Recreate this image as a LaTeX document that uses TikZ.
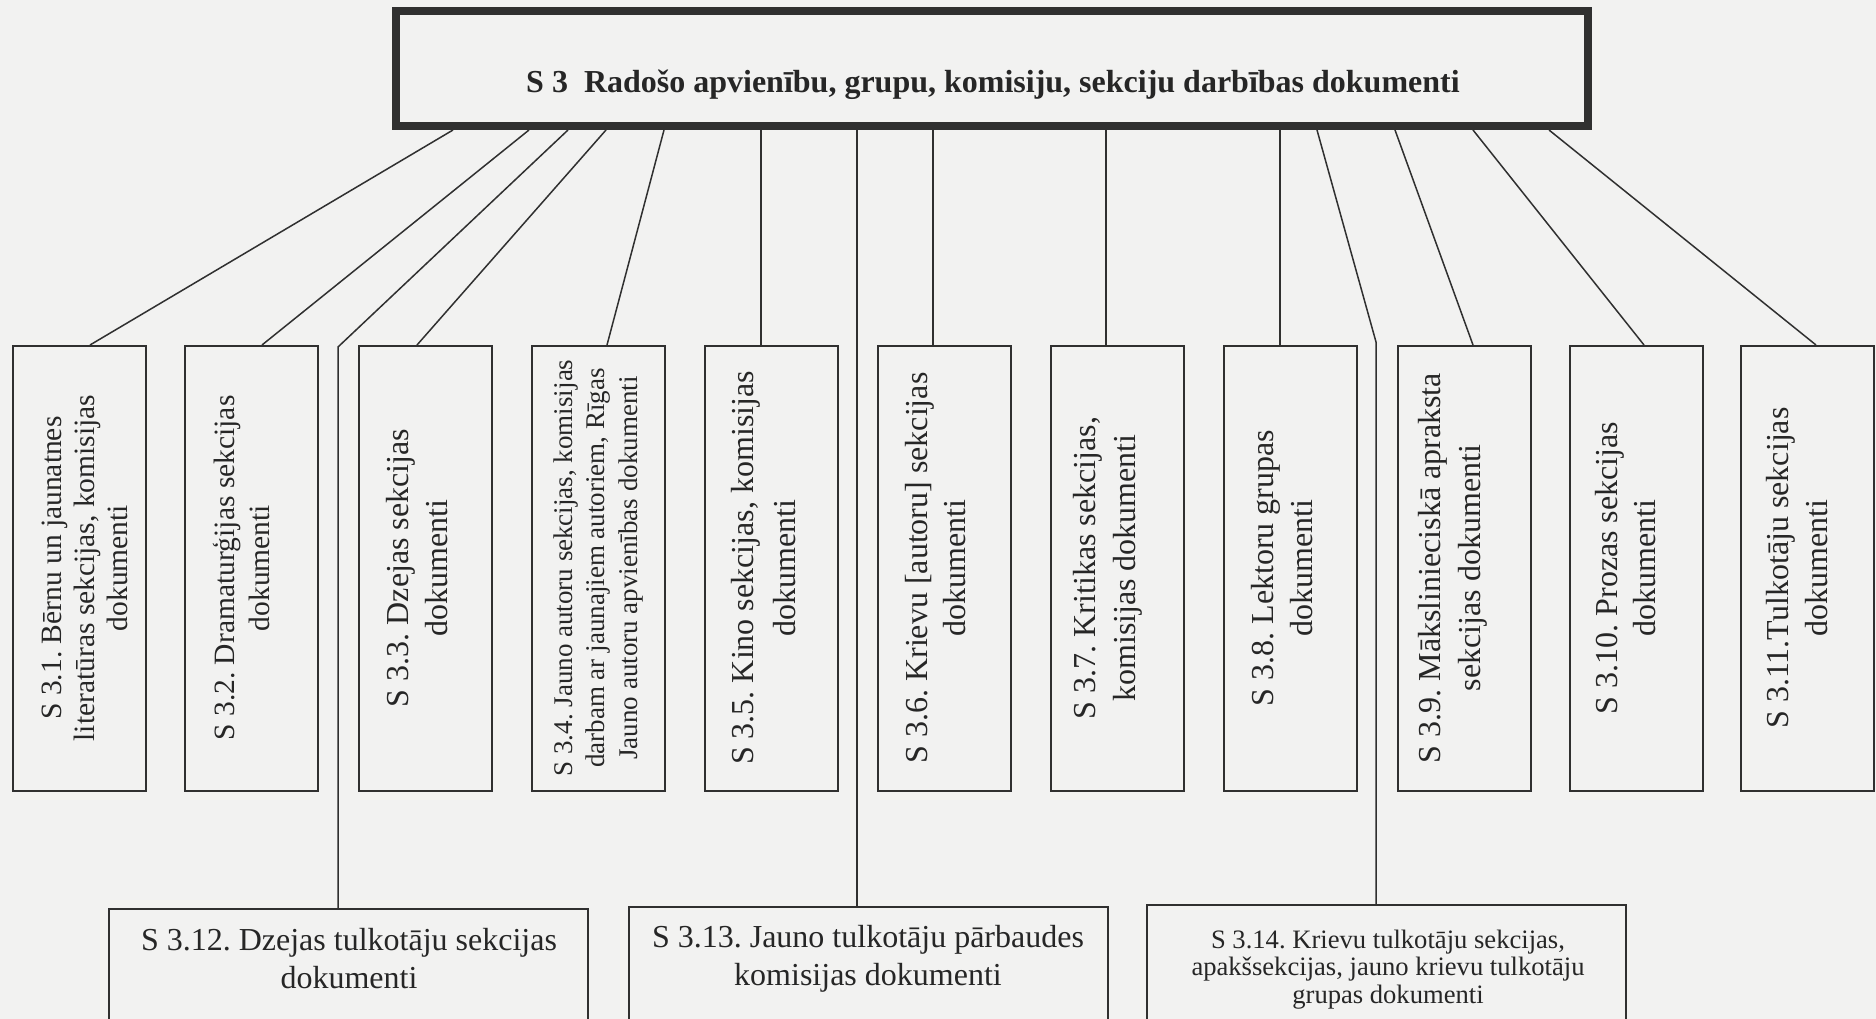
\documentclass[tikz,border=0pt]{standalone}
\usepackage{fontspec}
\setmainfont{Liberation Serif}
\usetikzlibrary{calc}
\definecolor{bg}{RGB}{242,242,241}
\definecolor{ink}{RGB}{48,48,48}
\definecolor{txt}{RGB}{38,38,38}
\frenchspacing
\begin{document}
\begin{tikzpicture}[x=1pt,y=-1pt,
  conn/.style={draw=ink,line width=1.5pt},
  vbox/.style={draw=ink,line width=2pt,minimum width=133pt,minimum height=445pt,inner sep=0pt},
  hbox/.style={draw=ink,line width=2pt,minimum width=479pt,minimum height=200pt,inner sep=0pt},
  vtext/.style={rotate=90,align=center,text=txt,inner sep=0pt},
  htext/.style={align=center,text=txt,inner sep=0pt}]
\path[use as bounding box,fill=bg] (0,0) rectangle (1876,1019);
\clip (0,0) rectangle (1876,1019);
% top box
\node[draw=ink,line width=8pt,minimum width=1192pt,minimum height=115pt,inner sep=0pt] (tb) at (992,68.5) {};
\node[text=txt,font=\bfseries\fontsize{32}{38}\selectfont,anchor=base,inner sep=0pt] (title) at (993,93) {S 3\enspace Radošo apvienību, grupu, komisiju, sekciju darbības dokumenti};
% vertical boxes
\node[vbox] (b1) at (79.5,568.5) {};
\node[vbox] (b2) at (251.5,568.5) {};
\node[vbox] (b3) at (425,568.5) {};
\node[vbox] (b4) at (598.5,568.5) {};
\node[vbox] (b5) at (771,568.5) {};
\node[vbox] (b6) at (944.5,568.5) {};
\node[vbox] (b7) at (1117,568.5) {};
\node[vbox] (b8) at (1290.5,568.5) {};
\node[vbox] (b9) at (1464,568.5) {};
\node[vbox] (b10) at (1636,568.5) {};
\node[vbox] (b11) at (1807.5,568.5) {};
% texts
\node[vtext,font=\fontsize{29.5}{33}\selectfont] (t1) at (85,568) {S 3.1. Bērnu un jaunatnes\\literatūras sekcijas, komisijas\\dokumenti};
\node[vtext,font=\fontsize{29.5}{35}\selectfont] (t2) at (241,568) {S 3.2. Dramaturģijas sekcijas\\dokumenti};
\node[vtext,font=\fontsize{32}{39}\selectfont] (t3) at (417,568) {S 3.3. Dzejas sekcijas\\dokumenti};
\node[vtext,font=\fontsize{27}{32.5}\selectfont] (t4) at (598,568) {S 3.4. Jauno autoru sekcijas, komisijas\\darbam ar jaunajiem autoriem, Rīgas\\Jauno autoru apvienības dokumenti};
\node[vtext,font=\fontsize{32}{42}\selectfont] (t5) at (764,568) {S 3.5. Kino sekcijas, komisijas\\dokumenti};
\node[vtext,font=\fontsize{32}{38}\selectfont] (t6) at (936,568) {S 3.6. Krievu [autoru] sekcijas\\dokumenti};
\node[vtext,font=\fontsize{32}{40}\selectfont] (t7) at (1108,568) {S 3.7. Kritikas sekcijas,\\komisijas dokumenti};
\node[vtext,font=\fontsize{32}{39}\selectfont] (t8) at (1282,568) {S 3.8. Lektoru grupas\\dokumenti};
\node[vtext,font=\fontsize{32}{40}\selectfont] (t9) at (1453,568) {S 3.9. Mākslinieciskā apraksta\\sekcijas dokumenti};
\node[vtext,font=\fontsize{32}{38}\selectfont] (t10) at (1626,568) {S 3.10. Prozas sekcijas\\dokumenti};
\node[vtext,font=\fontsize{32}{39}\selectfont] (t11) at (1797,568) {S 3.11.Tulkotāju sekcijas\\dokumenti};
% bottom boxes
\node[hbox] (b12) at (348.5,1009) {};
\node[hbox] (b13) at (868.5,1007) {};
\node[hbox] (b14) at (1386.5,1005) {};
\node[htext,font=\fontsize{32}{38}\selectfont] (t12) at (349,959) {S 3.12. Dzejas tulkotāju sekcijas\\dokumenti};
\node[htext,font=\fontsize{32}{38}\selectfont] (t13) at (868,959) {S 3.13. Jauno tulkotāju pārbaudes\\komisijas dokumenti};
\node[htext,font=\fontsize{26.6}{27.5}\selectfont] (t14) at (1388,969.5) {S 3.14. Krievu tulkotāju sekcijas,\\apakšsekcijas, jauno krievu tulkotāju\\grupas dokumenti};
% bend points
\coordinate (k12) at (338,347);
\coordinate (k14) at (1376,342);
% connectors
\draw[conn] ($(tb.south)+(-539,0)$) -- ($(b1.north)+(10.5,0)$);
\draw[conn] ($(tb.south)+(-463,0)$) -- ($(b2.north)+(10.5,0)$);
\draw[conn] ($(tb.south)+(-424,0)$) -- (k12) -- (b12.north -| k12);
\draw[conn] ($(tb.south)+(-386,0)$) -- ($(b3.north)+(-8,0)$);
\draw[conn] ($(tb.south)+(-328,0)$) -- ($(b4.north)+(8.5,0)$);
\draw[conn] ($(tb.south)+(-231,0)$) -- ($(b5.north)+(-10,0)$);
\draw[conn] ($(tb.south)+(-135,0)$) -- ($(b13.north)+(-11.5,0)$);
\draw[conn] ($(tb.south)+(-59,0)$) -- ($(b6.north)+(-11.5,0)$);
\draw[conn] ($(tb.south)+(114,0)$) -- ($(b7.north)+(-11,0)$);
\draw[conn] ($(tb.south)+(288,0)$) -- ($(b8.north)+(-10.5,0)$);
\draw[conn] ($(tb.south)+(325,0)$) -- (k14) -- (b14.north -| k14);
\draw[conn] ($(tb.south)+(403,0)$) -- ($(b9.north)+(9,0)$);
\draw[conn] ($(tb.south)+(481,0)$) -- ($(b10.north)+(8,0)$);
\draw[conn] ($(tb.south)+(557,0)$) -- ($(b11.north)+(8.5,0)$);
\end{tikzpicture}
\end{document}
